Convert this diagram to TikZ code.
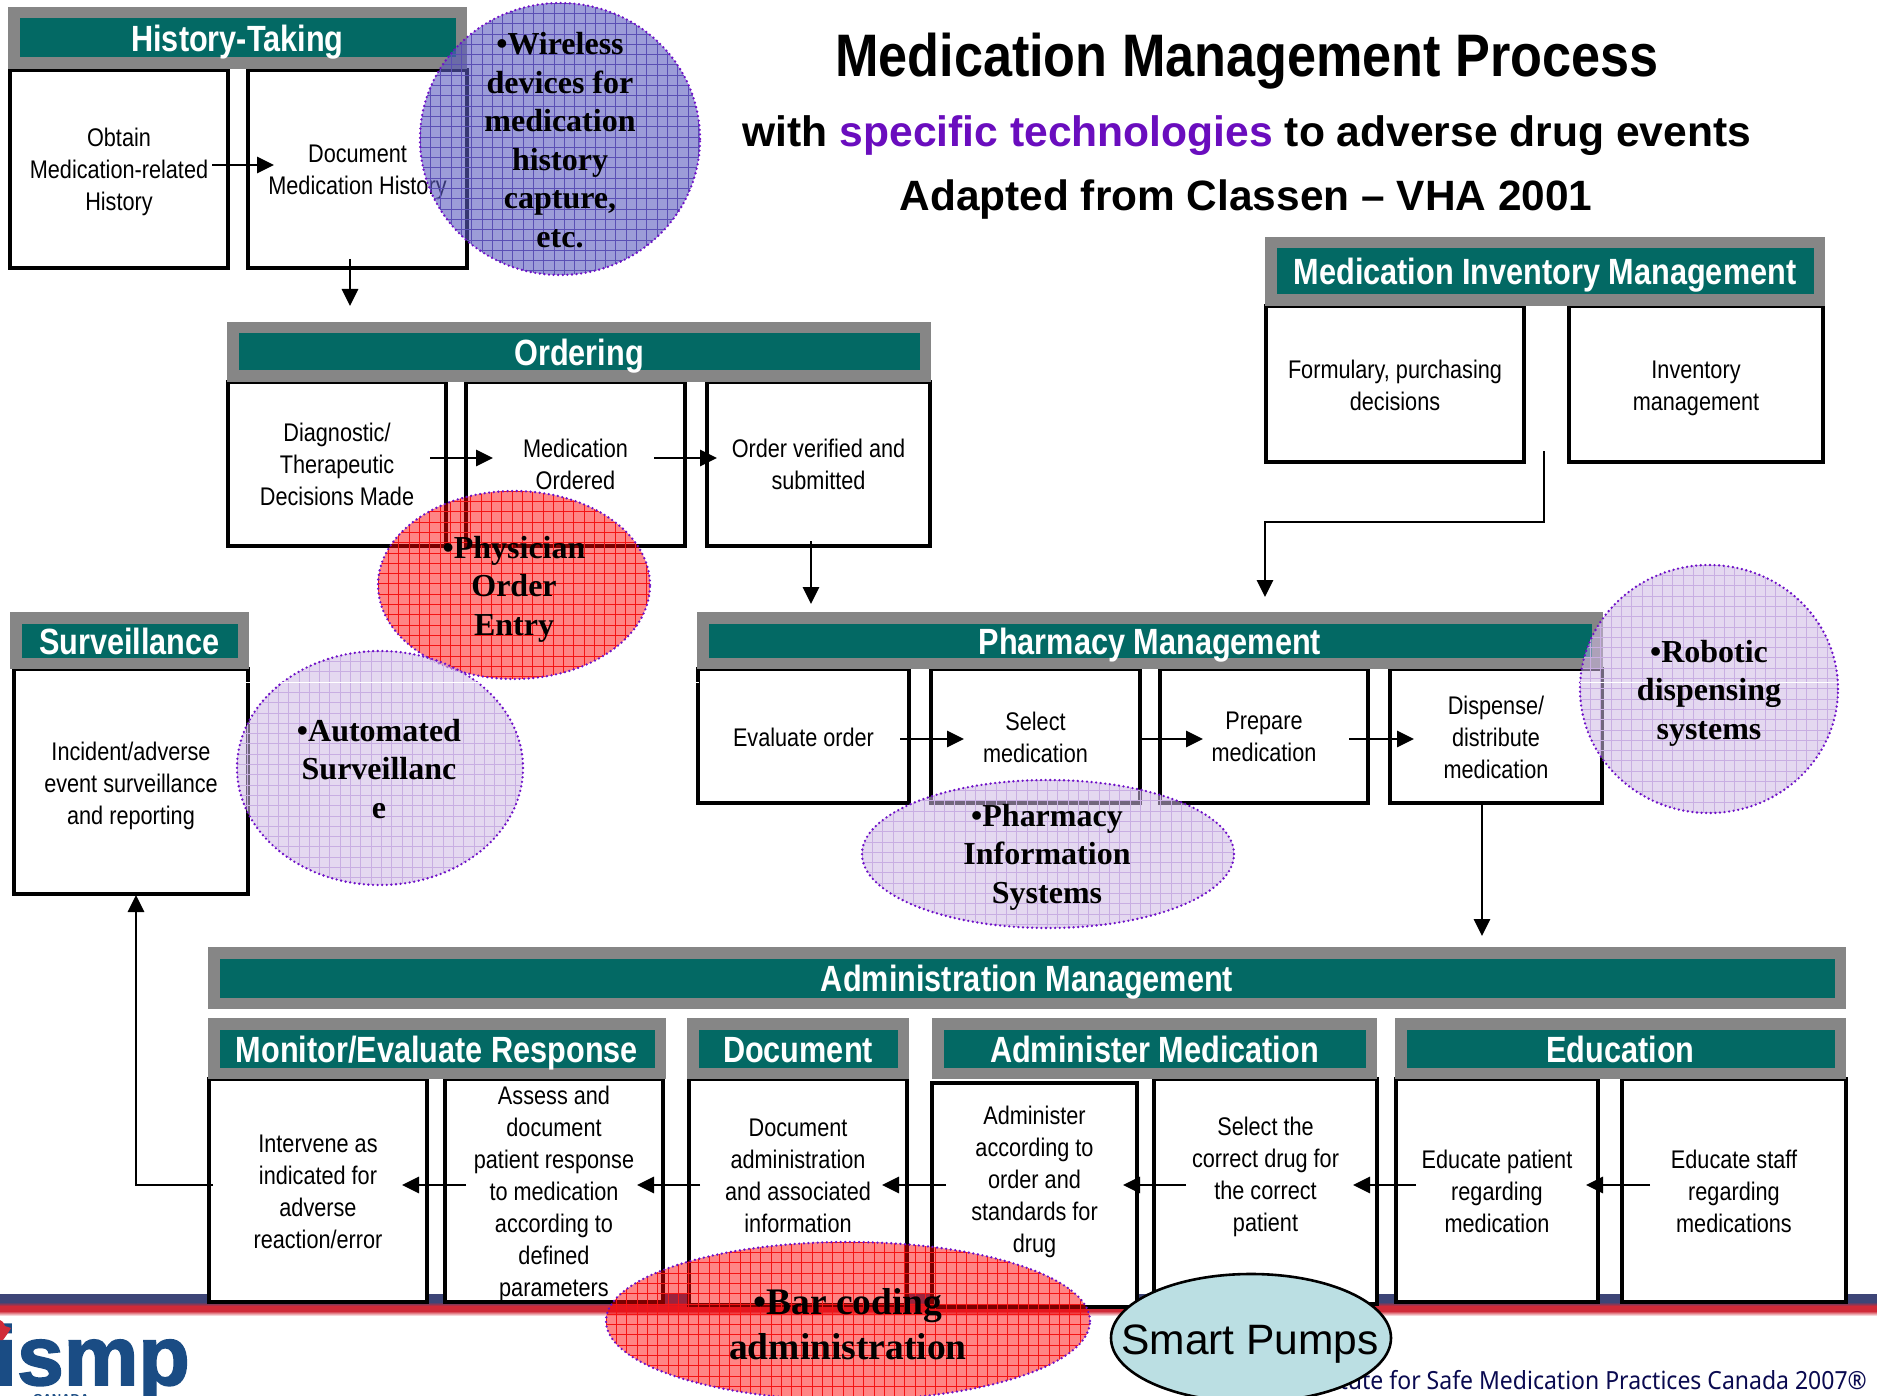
\documentclass[tikz,border=0pt]{standalone}
\usepackage{fontspec}
\usetikzlibrary{arrows.meta,shapes.geometric,calc}
\setmainfont{Liberation Sans}
\newfontfamily\narrowf[FakeStretch=0.85]{Liberation Sans}
\newfontfamily\headf[FakeStretch=0.84]{Liberation Sans}
\newfontfamily\titlef[FakeStretch=0.87]{Liberation Sans}
\newfontfamily\serif{Liberation Serif}
\newfontfamily\footf[FakeStretch=0.92]{Noto Sans}
\newfontfamily\logof[FakeBold=2]{Liberation Sans}
\definecolor{teal1}{HTML}{036964}
\definecolor{grey1}{HTML}{868686}
\definecolor{purp}{HTML}{6A0DBE}
\definecolor{dotp}{HTML}{6E10C8}
\definecolor{navyb}{HTML}{3D4577}
\definecolor{redb}{HTML}{D02A38}
\definecolor{logob}{HTML}{1A4C84}
\definecolor{footb}{HTML}{0A0A50}
\definecolor{pumpc}{HTML}{BBDFE3}
\definecolor{wirec}{HTML}{5A5ABE}
\definecolor{wireg}{HTML}{5A4FB4}
\definecolor{redg}{HTML}{F41414}
\definecolor{lilac}{HTML}{CEB8E4}
\definecolor{lilacg}{HTML}{C8AEE2}
\tikzset{
  x=1pt,y=-1pt,
  procbox/.style={draw=black,line width=3.2pt,fill=white,rectangle,inner sep=0pt},
  bodytxt/.style={align=center,inner sep=0pt,font=\narrowf\fontsize{25.5}{32}\selectfont},
  greybar/.style={fill=grey1,rectangle,inner sep=0pt},
  tealbar/.style={fill=teal1,rectangle,inner sep=0pt,text=white,font=\headf\bfseries\fontsize{36.5}{40}\selectfont},
  flow/.style={draw=black,line width=2.8pt,-{Triangle[length=17pt,width=16pt]}},
  techtxt/.style={align=center,inner sep=0pt,text=black,font=\serif\bfseries\fontsize{32}{38.5}\selectfont},
}
% box: name, x0,y0,x1,y1, text y-shift, text
\newcommand{\bx}[7]{%
  \node[procbox,minimum width={(#4-#2)*1pt},minimum height={(#5-#3)*1pt}] (#1) at ({(#2+#4)/2},{(#3+#5)/2}) {};
  \node[bodytxt] (#1-t) at ($(#1.center)+(0,#6)$) {#7};}
% header: name, x0,y0,x1,y1, text
\newcommand{\hd}[6]{%
  \node[greybar,minimum width={(#4-#2)*1pt},minimum height={(#5-#3)*1pt}] (#1-g) at ({(#2+#4)/2},{(#3+#5)/2}) {};
  \node[tealbar,minimum width={(#4-#2-23)*1pt},minimum height={(#5-#3-23)*1pt}] (#1) at ({(#2+#4)/2},{(#3+#5)/2}) {\raisebox{-13.5pt}[0pt][0pt]{#6}};}
% technology ellipse: name,cx,cy,rx,ry,fill,opacity,grid colour
\newcommand{\tech}[8]{%
  \begin{scope}
    \clip (#2,#3) ellipse [x radius=#4,y radius=#5];
    \fill[#6,fill opacity=#7] (#2-#4,#3-#5) rectangle (#2+#4,#3+#5);
    \foreach \k in {0,...,48}{
      \draw[#8,line width=0.6pt] ({#2-#4+\k*10.3},#3-#5) -- ({#2-#4+\k*10.3},#3+#5);
      \draw[#8,line width=0.6pt] (#2-#4,{#3-#5+\k*10.3}) -- (#2+#4,{#3-#5+\k*10.3});
    }
  \end{scope}
  \node[ellipse,draw=dotp,line width=2.6pt,line cap=round,dash pattern=on 0pt off 4.6pt,inner sep=0pt,minimum width={2*#4*1pt},minimum height={2*#5*1pt}] (#1) at (#2,#3) {};}
\begin{document}
\begin{tikzpicture}
\useasboundingbox (0,0) rectangle (1877,1396);
\clip (0,0) rectangle (1877,1396);
\fill[white] (0,0) rectangle (1877,1396);

% bottom band
\fill[navyb] (0,1294) rectangle (1877,1302);
\shade[top color=navyb,bottom color=redb] (0,1302) rectangle (1877,1306);
\fill[redb] (0,1306) rectangle (1877,1311);
\shade[top color=redb,bottom color=white] (0,1311) rectangle (1877,1316);

% logo
\node[anchor=base east,inner sep=0pt,text=logob,font=\logof\bfseries\fontsize{84}{84}\selectfont] (logo) at (190,1385) {ismp};
\node[anchor=base west,inner sep=0pt,text=logob,font=\bfseries\fontsize{13}{13}\selectfont] (logoc) at (33,1403) {CANADA};
\fill[redb] (0,1320) -- (3,1322) -- (5,1326) -- (11,1328) -- (8,1333) -- (3,1340) -- (0,1340) -- cycle;

% footer
\node[anchor=base east,inner sep=0pt,text=footb,font=\footf\fontsize{25}{25}\selectfont] (foot) at (1867,1389) {Institute for Safe Medication Practices Canada 2007®};

% titles
\node[inner sep=0pt,font=\titlef\bfseries\fontsize{60}{64}\selectfont] (title) at (1247,61) {Medication Management Process};
\node[inner sep=0pt,font=\bfseries\fontsize{42.6}{46}\selectfont] (sub1) at (1247,136) {with \textcolor{purp}{specific technologies} to adverse drug events};
\node[inner sep=0pt,font=\bfseries\fontsize{42.4}{46}\selectfont] (sub2) at (1246,200) {Adapted from Classen – VHA 2001};

% process boxes
\bx{obtain}{10}{70}{228}{268}{3}{Obtain\\Medication-related\\History}
\bx{dochist}{248}{70}{467}{268}{3}{Document\\Medication History}
\bx{diag}{228}{382}{446}{546}{0}{Diagnostic/\\Therapeutic\\Decisions Made}
\bx{medord}{466}{382}{685}{546}{0}{Medication\\Ordered}
\bx{verify}{707}{382}{930}{546}{0}{Order verified and\\submitted}
\bx{formul}{1266}{306}{1524}{462}{1}{Formulary, purchasing\\decisions}
\bx{invent}{1569}{306}{1823}{462}{4}{Inventory\\management}
\bx{evalo}{698}{669}{909}{803}{1}{Evaluate order}
\bx{selmed}{931}{669}{1140}{803}{1}{Select\\medication}
\bx{prep}{1160}{669}{1368}{803}{1}{Prepare\\medication}
\bx{disp}{1390}{669}{1602}{803}{1}{Dispense/\\distribute\\medication}
\bx{incid}{14}{669}{248}{894}{4}{Incident/adverse\\event surveillance\\and reporting}
\bx{interv}{209}{1079}{427}{1302}{1}{Intervene as\\indicated for\\adverse\\reaction/error}
\bx{assess}{445}{1079}{663}{1302}{3}{Assess and\\document\\patient response\\to medication\\according to\\defined\\parameters}
\bx{docadm}{689}{1079}{907}{1305}{-16}{Document\\administration\\and associated\\information}
\bx{admin}{932}{1083}{1137}{1307}{-13}{Administer\\according to\\order and\\standards for\\drug}
\bx{selcor}{1154}{1079}{1377}{1304}{-15}{Select the\\correct drug for\\the correct\\patient}
\bx{edupat}{1396}{1079}{1598}{1302}{1}{Educate patient\\regarding\\medication}
\bx{edustf}{1622}{1079}{1846}{1302}{1}{Educate staff\\regarding\\medications}

% headers
\hd{hHist}{8}{7}{467}{69}{History-Taking}
\hd{hOrd}{227}{322}{931}{382}{Ordering}
\hd{hInv}{1265}{237}{1825}{306}{Medication Inventory Management}
\hd{hPha}{697}{612}{1603}{669}{Pharmacy Management}
\hd{hSur}{10}{612}{249}{669}{Surveillance}
\hd{hAdm}{208}{947}{1846}{1009}{Administration Management}
\hd{hMon}{208}{1018}{666}{1079}{Monitor/Evaluate Response}
\hd{hDoc}{687}{1018}{909}{1079}{Document}
\hd{hAdm2}{932}{1018}{1377}{1079}{Administer Medication}
\hd{hEdu}{1395}{1018}{1846}{1079}{Education}

% connector end points
\coordinate (a1s) at (212,165); \coordinate (a1e) at (274,165);
\coordinate (a2s) at (350,259); \coordinate (a2e) at (350,306);
\coordinate (a3s) at (430,458); \coordinate (a3e) at (493,458);
\coordinate (a4s) at (654,458); \coordinate (a4e) at (717,458);
\coordinate (a5s) at (811,541); \coordinate (a5e) at (811,604);
\coordinate (a6s) at (1544,451); \coordinate (a6m) at (1544,522); \coordinate (a6n) at (1265,522); \coordinate (a6e) at (1265,597);
\coordinate (a7s) at (900,739); \coordinate (a7e) at (964,739);
\coordinate (a8s) at (1140,739); \coordinate (a8e) at (1203,739);
\coordinate (a9s) at (1349,739); \coordinate (a9e) at (1414,739);
\coordinate (a10s) at (1482,803); \coordinate (a10e) at (1482,936);
\coordinate (a11s) at (1650,1185); \coordinate (a11e) at (1586,1185);
\coordinate (a12s) at (1416,1185); \coordinate (a12e) at (1353,1185);
\coordinate (a13s) at (1186,1185); \coordinate (a13e) at (1123,1185);
\coordinate (a14s) at (946,1185); \coordinate (a14e) at (882,1185);
\coordinate (a15s) at (700,1185); \coordinate (a15e) at (637,1185);
\coordinate (a16s) at (466,1185); \coordinate (a16e) at (402,1185);
\coordinate (a17s) at (213,1185); \coordinate (a17m) at (136,1185); \coordinate (a17e) at (136,895);

% connectors
\draw[flow] (a1s) -- (a1e);
\draw[flow] (a2s) -- (a2e);
\draw[flow] (a3s) -- (a3e);
\draw[flow] (a4s) -- (a4e);
\draw[flow] (a5s) -- (a5e);
\draw[flow] (a6s) -- (a6m) -- (a6n) -- (a6e);
\draw[flow] (a7s) -- (a7e);
\draw[flow] (a8s) -- (a8e);
\draw[flow] (a9s) -- (a9e);
\draw[flow] (a10s) -- (a10e);
\draw[flow] (a11s) -- (a11e);
\draw[flow] (a12s) -- (a12e);
\draw[flow] (a13s) -- (a13e);
\draw[flow] (a14s) -- (a14e);
\draw[flow] (a15s) -- (a15e);
\draw[flow] (a16s) -- (a16e);
\draw[flow] (a17s) -- (a17m) -- (a17e);

% technology ellipses
\tech{eWire}{560}{139}{140}{136}{wirec}{0.6}{wireg}
\tech{ePhys}{514}{585}{136}{94}{red}{0.48}{redg}
\tech{eAuto}{380}{768}{143}{117}{lilac}{0.55}{lilacg}
\tech{ePhar}{1048}{854}{186}{74}{lilac}{0.55}{lilacg}
\tech{eRobo}{1709}{689}{129}{124}{lilac}{0.55}{lilacg}
\tech{eBar}{848}{1321}{242}{79}{red}{0.48}{redg}
\node[ellipse,draw=black,line width=2.6pt,fill=pumpc,inner sep=0pt,minimum width=280pt,minimum height=128pt] (ePump) at (1251,1338) {};

% thin white scan line
\draw[white,line width=0.8pt] (246,682) -- (699,682);
\draw[white,line width=0.8pt] (1580,682) -- (1839,682);

% technology labels
\node[techtxt] (tWire) at (560,140) {•Wireless\\devices for\\medication\\history\\capture,\\etc.};
\node[techtxt] (tPhys) at (514,589) {•Physician\\Order\\Entry};
\node[techtxt] (tAuto) at (379,769) {•Automated\\Surveillanc\\e};
\node[techtxt] (tPhar) at (1047,857) {•Pharmacy\\Information\\Systems};
\node[techtxt] (tRobo) at (1709,693) {•Robotic\\dispensing\\systems};
\node[techtxt,font=\serif\bfseries\fontsize{37.5}{45}\selectfont] (tBar) at (848,1324) {•Bar coding\\administration};
\node[inner sep=0pt,font=\fontsize{42.5}{46}\selectfont] (tPump) at (1250,1344) {Smart Pumps};
\end{tikzpicture}
\end{document}
